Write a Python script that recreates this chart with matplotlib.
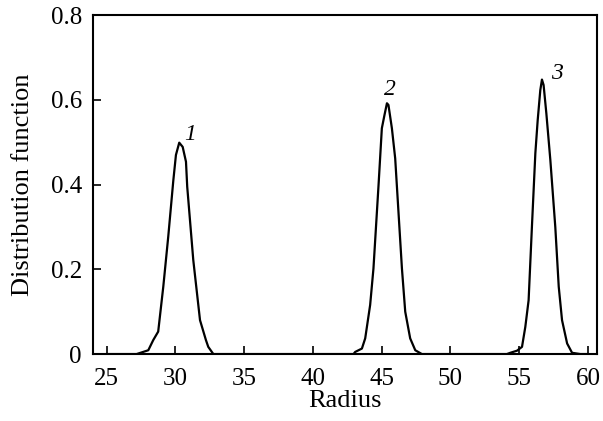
import numpy as np
import matplotlib
matplotlib.use('Agg')
import matplotlib.pyplot as plt

plt.rcParams['font.family'] = ['Liberation Serif', 'DejaVu Serif']

# peak 1
r1 = [25.0, 27.18, 28.03, 28.39, 28.75, 29.12, 29.48, 29.85, 30.04, 30.28, 30.53, 30.77,
      30.86, 31.30, 31.79, 32.22, 32.39, 32.76, 33.37]
f1 = [0.0, 0.0, 0.009, 0.033, 0.053, 0.159, 0.277, 0.41, 0.47, 0.499, 0.489, 0.454,
      0.395, 0.222, 0.080, 0.033, 0.017, 0.0, 0.0]
# peak 2
r2 = [42.95, 43.07, 43.56, 43.80, 44.16, 44.40, 44.77, 45.01, 45.20, 45.38, 45.49,
      45.74, 45.98, 46.47, 46.71, 47.07, 47.44, 47.92]
f2 = [0.0, 0.005, 0.013, 0.037, 0.116, 0.202, 0.399, 0.533, 0.564, 0.592, 0.588,
      0.533, 0.462, 0.202, 0.100, 0.037, 0.009, 0.0]
# peak 3
r3 = [54.10, 54.35, 54.84, 55.20, 55.44, 55.68, 55.92, 56.17, 56.34, 56.53, 56.65,
      56.77, 56.97, 57.26, 57.62, 57.87, 58.11, 58.48, 58.84, 59.44, 60.0]
f3 = [0.0, 0.003, 0.008, 0.017, 0.064, 0.127, 0.300, 0.474, 0.552, 0.623, 0.648,
      0.635, 0.568, 0.458, 0.300, 0.159, 0.080, 0.025, 0.003, 0.0, 0.0]
labels = ['1', '2', '3']

x = np.array(r1 + r2 + r3)
y = np.array(f1 + f2 + f3)

fig = plt.figure(figsize=(6.03, 4.21), dpi=100)
ax = fig.add_axes([0.154, 0.159, 0.836, 0.805])
ax.plot(x, y, color='black', lw=1.6)

# peak numbers
offsets = [(8, -2), (2, 2.5), (11, -3)]
for lab, rr, ff, off in zip(labels, [r1, r2, r3], [f1, f2, f3], offsets):
    i = int(np.argmax(ff))
    ax.annotate(lab, (rr[i], ff[i]), xytext=off, textcoords='offset points',
                ha='center', va='bottom', fontsize=17, style='italic')

ax.set_xlim(24, 60.65)
ax.set_ylim(0, 0.8)
ax.set_xticks(np.arange(25, 61, 5))
ax.set_yticks([0, 0.2, 0.4, 0.6, 0.8])
ax.set_yticklabels(['0', '0.2', '0.4', '0.6', '0.8'])
ax.tick_params(direction='in', length=6, width=1.2, labelsize=18)
ax.tick_params(axis='x', pad=10)
ax.tick_params(axis='y', pad=8)
for s in ax.spines.values():
    s.set_linewidth(1.5)
ax.set_xlabel('Radius', fontsize=19, labelpad=0)
ax.set_ylabel('Distribution function', fontsize=19, labelpad=12)

fig.savefig('out.png', dpi=100)
